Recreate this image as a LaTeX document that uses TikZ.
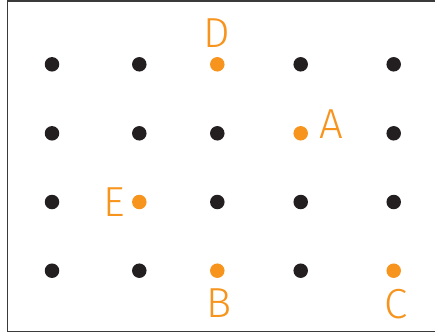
\documentclass[tikz,border=0pt]{standalone}
\usepackage{fontspec}
\setmainfont{Fira Sans}[UprightFont=* Light]
\definecolor{dotorange}{HTML}{F7941D}
\definecolor{dotblack}{HTML}{231F20}
\definecolor{framegray}{HTML}{3A3A3A}
\begin{document}
\begin{tikzpicture}[x=1pt,y=-1pt,
  blackdot/.style={circle,fill=dotblack,inner sep=0pt,minimum size=14.5pt},
  orangedot/.style={circle,fill=dotorange,inner sep=0pt,minimum size=14.5pt},
  letter/.style={text=dotorange,font=\fontsize{42}{42}\selectfont,anchor=base,inner sep=0pt}]
\useasboundingbox (0,0) rectangle (435,335);
\begin{scope}
\clip (0,0) rectangle (435,335);
\draw[framegray,line width=1.4pt] (7.3,0.8) rectangle (445,331.3);
\end{scope}
% columns
\def\cA{52}\def\cB{139.3}\def\cC{217.3}\def\cD{300.7}\def\cE{393.7}
\def\rA{64.3}\def\rB{133.3}\def\rC{202}\def\rD{270.7}
% row 1
\node[blackdot] (p11) at (\cA,\rA) {};
\node[blackdot] (p12) at (\cB,\rA) {};
\node[orangedot] (pD) at (\cC,\rA) {};
\node[blackdot] (p14) at (\cD,\rA) {};
\node[blackdot] (p15) at (\cE,\rA) {};
% row 2
\node[blackdot] (p21) at (\cA,\rB) {};
\node[blackdot] (p22) at (\cB,\rB) {};
\node[blackdot] (p23) at (\cC,\rB) {};
\node[orangedot] (pA) at (\cD,\rB) {};
\node[blackdot] (p25) at (\cE,\rB) {};
% row 3
\node[blackdot] (p31) at (\cA,\rC) {};
\node[orangedot] (pE) at (\cB,\rC) {};
\node[blackdot] (p33) at (\cC,\rC) {};
\node[blackdot] (p34) at (\cD,\rC) {};
\node[blackdot] (p35) at (\cE,\rC) {};
% row 4
\node[blackdot] (p41) at (\cA,\rD) {};
\node[blackdot] (p42) at (\cB,\rD) {};
\node[orangedot] (pB) at (\cC,\rD) {};
\node[blackdot] (p44) at (\cD,\rD) {};
\node[orangedot] (pC) at (\cE,\rD) {};
% labels
\node[letter] (lD) at (216.7,47) {D};
\node[letter] (lA) at (331,138) {A};
\node[letter] (lE) at (114,216) {E};
\node[letter] (lB) at (219,317) {B};
\node[letter] (lC) at (396.5,318) {C};
\end{tikzpicture}
\end{document}
